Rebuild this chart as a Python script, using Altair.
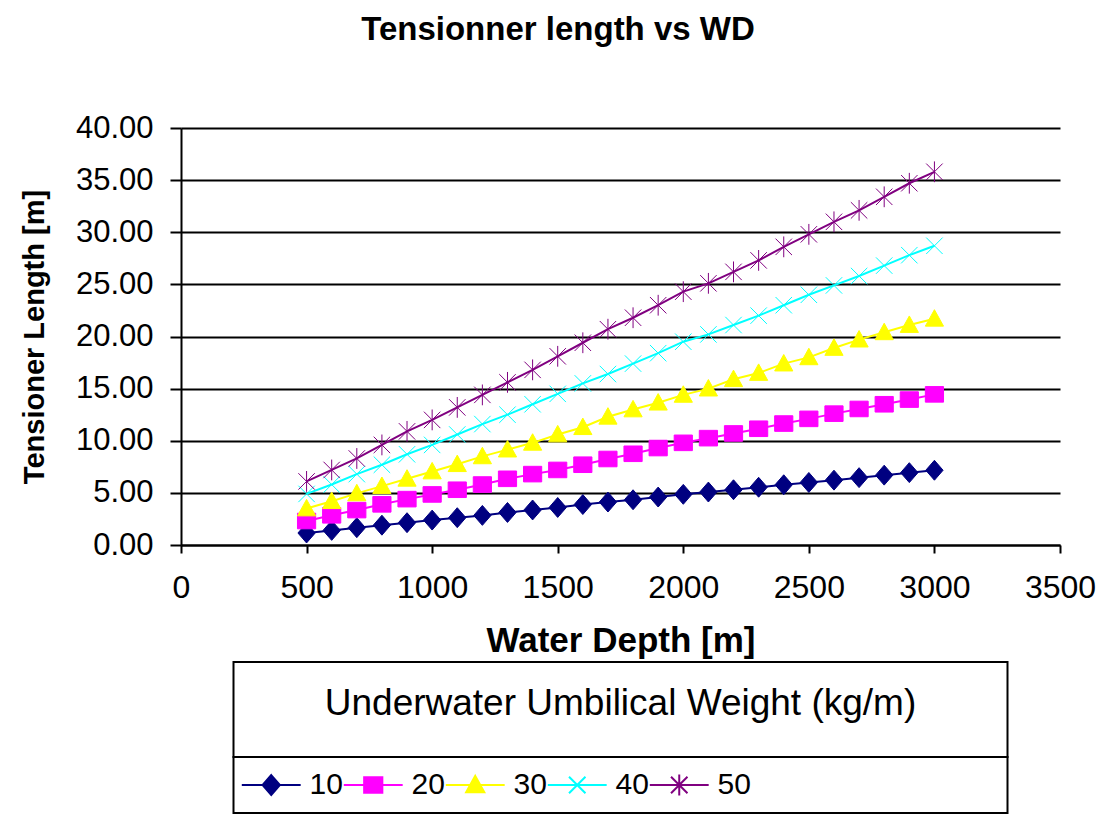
import altair as alt
import pandas as pd

# ---------------- data ----------------
depth = [500, 600, 700, 800, 900, 1000, 1100, 1200, 1300, 1400, 1500, 1600, 1700,
         1800, 1900, 2000, 2100, 2200, 2300, 2400, 2500, 2600, 2700, 2800, 2900, 3000]

w10 = [1.15, 1.40, 1.66, 1.90, 2.14, 2.39, 2.62, 2.84, 3.12, 3.36, 3.60, 3.88, 4.12,
       4.34, 4.60, 4.86, 5.08, 5.30, 5.54, 5.78, 6.00, 6.22, 6.46, 6.70, 6.94, 7.17]
w20 = [2.30, 2.85, 3.35, 3.90, 4.40, 4.85, 5.30, 5.80, 6.35, 6.80, 7.20, 7.70, 8.25,
       8.75, 9.30, 9.80, 10.25, 10.70, 11.15, 11.65, 12.10, 12.60, 13.05, 13.50, 13.95, 14.45]
w30 = [3.50, 4.20, 4.95, 5.65, 6.35, 7.05, 7.75, 8.50, 9.15, 9.80, 10.60, 11.30, 12.30,
       13.00, 13.65, 14.40, 15.00, 15.90, 16.50, 17.40, 18.00, 18.90, 19.70, 20.40, 21.10, 21.70]
w40 = [4.90, 5.80, 6.80, 7.70, 8.70, 9.60, 10.60, 11.60, 12.50, 13.50, 14.50, 15.50, 16.40,
       17.40, 18.40, 19.50, 20.20, 21.10, 22.00, 23.00, 24.00, 24.90, 25.80, 26.80, 27.80, 28.70]
w50 = [6.10, 7.20, 8.30, 9.60, 10.90, 12.00, 13.20, 14.40, 15.60, 16.80, 18.10, 19.40, 20.70,
       21.80, 23.00, 24.30, 25.10, 26.20, 27.30, 28.60, 29.80, 31.00, 32.10, 33.40, 34.70, 35.80]

series_names = ["10", "20", "30", "40", "50"]
series_values = [w10, w20, w30, w40, w50]

x_ticks = [0, 500, 1000, 1500, 2000, 2500, 3000, 3500]
y_ticks = [0, 5, 10, 15, 20, 25, 30, 35, 40]

chart_title = "Tensionner length vs WD"
x_title = "Water Depth [m]"
y_title = "Tensioner Length [m]"
legend_title = "Underwater Umbilical Weight (kg/m)"

# ---------------- styles ----------------
FONT = "Liberation Sans"
colors = ["#000080", "#FF00FF", "#FFFF00", "#00FFFF", "#800080"]
diamond = "M0,-1.15L1,0L0,1.15L-1,0Z"
square = "M-1.05,-0.9L1.05,-0.9L1.05,0.9L-1.05,0.9Z"
triangle = "M0,-1.05L1.05,0.85L-1.05,0.85Z"
xmark = "M-0.95,-0.95L0.95,0.95M-0.95,0.95L0.95,-0.95"
star = "M-0.95,-0.95L0.95,0.95M-0.95,0.95L0.95,-0.95M0,-1.2L0,1.2"
shapes = [diamond, square, triangle, xmark, star]
line_seg = "M-3.4,0L3.4,0"
legend_shapes = [line_seg + s for s in shapes]
marker_strokes = [1, 1, 1, 2.5, 2.5]

rows = []
for name, vals in zip(series_names, series_values):
    for d, v in zip(depth, vals):
        rows.append({"depth": d, "length": v, "w": name})
df = pd.DataFrame(rows)

color_scale = alt.Scale(domain=series_names, range=colors)

x_enc = alt.X(
    "depth:Q",
    scale=alt.Scale(domain=[0, 3500], nice=False, zero=False),
    axis=alt.Axis(
        values=x_ticks, format="d", title=x_title, grid=False, labelFlush=False,
        tickSize=8, tickWidth=2, tickColor="black",
        domainColor="black", domainWidth=2,
        labelFontSize=32, labelColor="black", labelPadding=19, labelFont=FONT,
        titleFontSize=35, titleFontWeight="bold", titleColor="black", titlePadding=20, titleFont=FONT,
    ),
)
y_enc = alt.Y(
    "length:Q",
    scale=alt.Scale(domain=[0, 40], nice=False),
    axis=alt.Axis(
        values=y_ticks, format=".2f", title=y_title, grid=True,
        gridColor="black", gridWidth=2, gridOpacity=1,
        tickSize=11, tickWidth=2, tickColor="black",
        domainColor="black", domainWidth=2,
        labelFontSize=31, labelColor="black", labelPadding=17, labelFont=FONT,
        titleFontSize=29, titleFontWeight="bold", titleColor="black", titlePadding=26, titleFont=FONT,
    ),
)

base = alt.Chart(df).encode(x=x_enc, y=y_enc)

lines = base.mark_line(strokeWidth=2).encode(
    color=alt.Color("w:N", scale=color_scale, legend=None),
    order=alt.Order("depth:Q"),
)
points = base.mark_point(filled=True, size=300, opacity=1).encode(
    color=alt.Color("w:N", scale=color_scale, legend=None),
    stroke=alt.Stroke("w:N", scale=color_scale, legend=None),
    shape=alt.Shape("w:N", scale=alt.Scale(domain=series_names, range=shapes), legend=None),
    strokeWidth=alt.StrokeWidth("w:N", scale=alt.Scale(domain=series_names, range=marker_strokes), legend=None),
)
main = alt.layer(lines, points).properties(width=879, height=417)

# empty spacer between the plot and the legend box (axis labels/title sit over it)
spacer = alt.Chart(pd.DataFrame({"t": [""]})).mark_text().encode(text="t:N").properties(
    width=774, height=117
)

# ---------------- legend (drawn as its own small charts) ----------------
leg_title_chart = alt.Chart(pd.DataFrame({"t": [legend_title]})).mark_text(
    font=FONT, fontSize=37, color="black", baseline="middle", dy=-6
).encode(text="t:N").properties(
    width=774, height=95, view=alt.ViewBackground(stroke="black", strokeWidth=2)
)

leg_df = pd.DataFrame({"w": series_names, "label": series_names})
leg_scale = alt.Scale(type="band", domain=series_names, range=[0, 510], paddingInner=0, paddingOuter=0)
leg_sym = alt.Chart(leg_df).mark_point(filled=True, size=300, opacity=1, strokeWidth=2).encode(
    x=alt.X("w:N", sort=series_names, bandPosition=0.37, axis=None, scale=leg_scale),
    color=alt.Color("w:N", scale=color_scale, legend=None),
    stroke=alt.Stroke("w:N", scale=color_scale, legend=None),
    shape=alt.Shape("w:N", scale=alt.Scale(domain=series_names, range=legend_shapes), legend=None),
)
leg_txt = alt.Chart(leg_df).mark_text(
    align="left", baseline="middle", dx=76, fontSize=30, font=FONT, color="black"
).encode(
    x=alt.X("w:N", sort=series_names, bandPosition=0, axis=None, scale=leg_scale),
    text="label:N",
)
leg_entries = alt.layer(leg_sym, leg_txt).properties(
    width=774, height=56, view=alt.ViewBackground(stroke="black", strokeWidth=2)
)

chart = alt.vconcat(
    main, spacer, leg_title_chart, leg_entries, spacing=0, bounds="flush", center=True
).resolve_scale(
    color="independent", shape="independent", stroke="independent", strokeWidth="independent"
).properties(
    title=alt.TitleParams(
        chart_title, font=FONT, fontSize=33, fontWeight="bold", color="black",
        anchor="middle", offset=65
    ),
    padding={"left": 20, "top": 14, "right": 5, "bottom": 0},
    background="white",
).configure_view(stroke=None)

chart.save("out.html", embed_options={"renderer": "svg", "actions": False})
